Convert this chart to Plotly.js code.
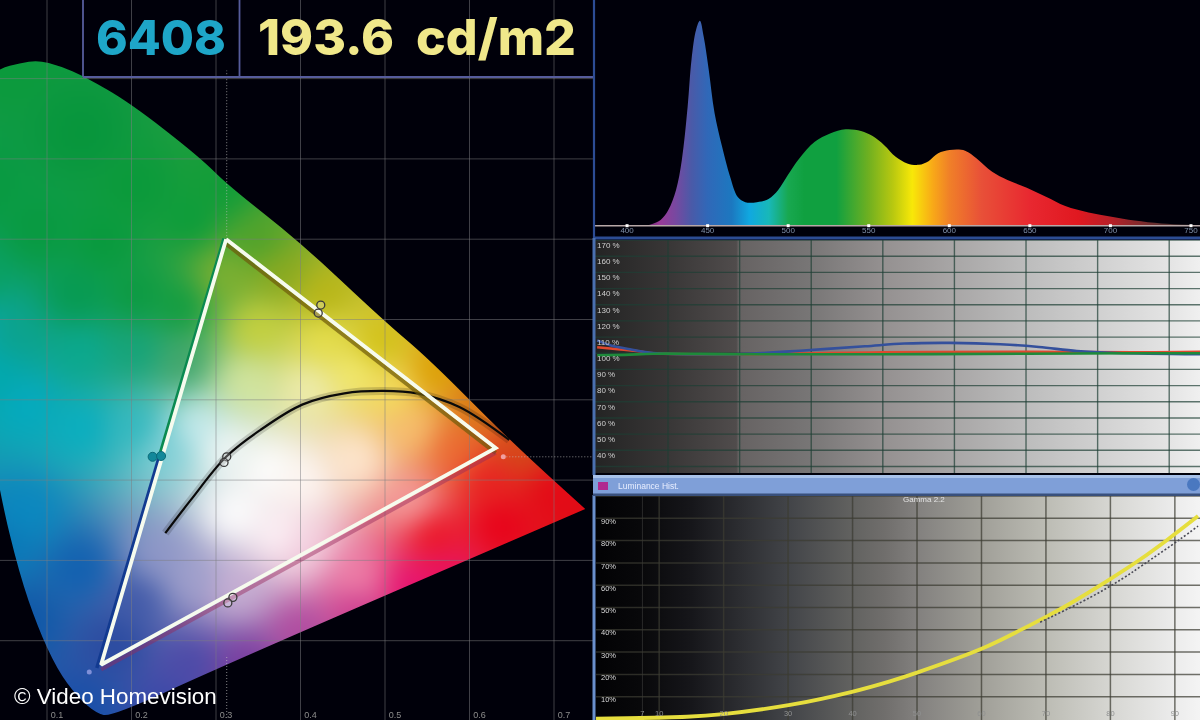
<!DOCTYPE html>
<html><head><meta charset="utf-8">
<script src="https://cdn.plot.ly/plotly-3.0.1.min.js"></script>
<style>html,body{margin:0;padding:0;background:#00000a;overflow:hidden}#gd{width:1200px;height:720px;filter:blur(0.45px)}</style>
</head><body><div id="gd"></div>
<script>
// ---------- CIE diagram values ----------
const locusX=[.044,.021,.009,.015,.044,.067,.089,.112,.136,.158,.176,.317,.737,.647,.553,.498,.399,.314,.281,.198,.145,.115,.089,.068];
const locusY=[.813,.792,.649,.462,.284,.184,.117,.064,.030,.010,.005,.073,.264,.350,.450,.499,.597,.667,.702,.770,.802,.816,.823,.819];
const cieTicksX=[.1,.2,.3,.4,.5,.6,.7];
const cieTickText=['0.1','0.2','0.3','0.4','0.5','0.6','0.7'];
const cieGridY=[.1,.2,.3,.4,.5,.6,.7,.8];
const whiteX=.3127, whiteY=.329;
const triX=[.312,.631,.164,.312];
const triY=[.600,.340,.070,.600];
const targetLeftX=[.3095,.234,.159];
const targetLeftY=[.601,.333,.066];
const planckX=[.240,.270,.312,.352,.402,.452,.498,.538,.588,.647];
const planckY=[.234,.275,.329,.362,.394,.408,.411,.408,.391,.350];
const refPtsX=[.640,.150];
const refPtsY=[.329,.061];
const ringX=[.3127,.3095,.424,.421,.320,.314];
const ringY=[.329,.322,.518,.508,.154,.147];
const cyanX=[.225,.235];
const cyanY=[.329,.330];
// ---------- Spectrum ----------
const nm=[413.6,420.8,425.6,430.4,434,437.6,440,442.8,445.2,447.6,450.7,454.3,459,463.9,468.7,473.4,480.6,487.8,493.8,499.8,506.9,516.5,526,535.6,545.2,552.4,559.6,566.7,573.9,581.1,587.1,593.1,600.2,609.8,617,626.6,636.1,648.1,660,672,686.4,700.7,715,731.8,749.7];
const power=[.3,2.8,7.6,17.4,32,58,81,95.5,100,92,76,55,38.5,24,14,11.5,11.5,13,17.4,24.7,32.8,41,45,47,46.2,43.7,39.3,33.6,30.4,29.7,31.5,35.3,36.9,36.6,32.8,26.3,22.3,18.5,14.1,9.6,6.5,4.4,2.5,1.1,.5];
const nmTicks=[400,450,500,550,600,650,700,750];
// ---------- RGB balance ----------
const ireGrid=[10,20,30,40,50,60,70,80];
const pctTicks=[170,160,150,140,130,120,110,100,90,80,70,60,50,40,30];
const pctText=pctTicks.map(v=>v+' %');
const blueX=[.1,1.9,4.7,7.9,14.5,21.4,29.4,37.5,43,49.4,56.4,61.8,67.1,72.6,84.3];
const blueY=[108,105,102.5,100.2,99.4,99.7,101.9,104.3,106,106.4,105.6,103.9,101.4,100.2,99.4];
const greenX=[.1,4,8,20,40,60,75,84.3];
const greenY=[98.8,99,99.7,99.4,99.4,99.7,100,100];
const redX=[.1,3,6,8,20,40,60,75,84.3];
const redY=[103.7,102.5,101.2,100,99.4,100.6,100.9,100.6,100.9];
// ---------- Luminance ----------
const lumGridX=[7.4,10,20,30,40,50,60,70,80,90];
const lumTickText=['7','10','20','30','40','50','60','70','80','90'];
const lumPct=[100,90,80,70,60,50,40,30,20,10];
const lumPctText=lumPct.map(v=>v+'%');
const lumX=[.2,14.3,19.9,30.3,39.9,45.8,50,60.1,66.4,70,73.3,79.9,84.6,88.8,93.6];
const lumY=[.2,1,2.2,6.3,12.2,16.9,20.8,31.6,40.4,45.8,51,62.6,71.5,80.3,91];
const gammaX=[69.1,76.8,81.9,85,90.8,93.6];
const gammaY=[43.4,54.4,63,69,80.6,86.5];

// ---------- styling only ----------
const xr=[37.5/845,630.5/845], yr=[1/803,721/803];
const specScale=[[413,'#6a2a70'],[420,'#9a3a98'],[430,'#7848a0'],[440,'#4a5aa8'],[450,'#3068b8'],[465,'#1c78c0'],[476,'#10a8e0'],[488,'#18b8b8'],[500,'#18a850'],[510,'#10a040'],[530,'#10a040'],[550,'#70b020'],[565,'#b8c810'],[577,'#f8e808'],[590,'#f8a818'],[600,'#f08028'],[620,'#e85038'],[650,'#e82830'],[680,'#e01820'],[700,'#b82028'],[730,'#603030'],[750,'#383030']];
function scale01(list,a,b){return list.map(s=>[(s[0]-a)/(b-a),s[1]]);}
const bg2=[[0,'#242424'],[10,'#383636'],[19.7,'#504c4c'],[20,'#666262'],[30,'#787676'],[40,'#949090'],[50,'#a8a6a6'],[60,'#bcbcbc'],[70,'#d0d0d0'],[80,'#e4e4e4'],[84.4,'#f0f0f0']];
const bg3=[[0,'#020204'],[7,'#08080a'],[15,'#16161a'],[30,'#424448'],[40,'#626260'],[45,'#706e6c'],[50,'#82807e'],[60,'#a09f98'],[70,'#bcbcb4'],[80,'#d6d6d2'],[90,'#ececec'],[94,'#f4f4f4']];
// colour field of the chromaticity diagram [px,py,hex]
const field=[[38,80,'#0b9a3c'],[100,150,'#07963c'],[150,200,'#0a9a3a'],[200,230,'#0a9c3a'],[228,200,'#109c38'],[260,250,'#4fa22a'],[280,280,'#8aa81e'],[320,300,'#b9b514'],[370,345,'#d0c010'],[420,370,'#dca000'],[460,400,'#d97a10'],[500,440,'#d34a18'],
[230,280,'#7fb030'],[260,330,'#c8d23c'],[320,340,'#e8e04a'],[350,370,'#f4ec70'],[250,380,'#d4e6a0'],[306,385,'#f0eeb0'],[383,387,'#f6e060'],[191,360,'#3fa56a'],[150,350,'#13a37a'],[100,350,'#0aa88f'],[20,370,'#00a8b0'],[11,333,'#08a8a8'],[38,333,'#0ca28c'],[96,300,'#069a50'],[150,300,'#0a9a40'],[190,310,'#0e9c3e'],[10,200,'#089a40'],[60,240,'#089a40'],[120,250,'#089a3c'],[5,280,'#08a060'],
[50,400,'#04aac0'],[100,420,'#08aec0'],[150,420,'#30b8c0'],[180,440,'#80d0d8'],[205,420,'#c8ecf0'],[230,440,'#f4f8f8'],[240,500,'#ffffff'],[270,460,'#ffffff'],[280,520,'#fff4f8'],[300,470,'#fff8f4'],[350,450,'#ffe8d0'],[400,420,'#f8c070'],[440,440,'#ec6a30'],[470,470,'#e82020'],[400,490,'#f4a0a0'],[420,520,'#ec1020'],[480,510,'#e80018'],[530,480,'#e40816'],[560,510,'#e00a14'],[400,570,'#e80e70'],[350,560,'#f080a8'],[300,530,'#f4d0e0'],[240,570,'#c8b0d4'],[200,560,'#a0a0cc'],[170,540,'#9098c8'],[150,580,'#4058a8'],[130,620,'#2a4aa0'],[200,640,'#4a4aa8'],[250,640,'#7c3ca0'],[300,610,'#b04aa0'],[350,590,'#cc3c90'],[430,555,'#e81060'],[100,550,'#1060b0'],[50,500,'#0a88c0'],[30,530,'#0a78b8'],[50,600,'#1058a8'],[100,680,'#1a50a8'],[110,710,'#1c50a8'],[180,680,'#3a48a8'],[240,665,'#7040a0']];
function rgb(h){return [1,3,5].map(i=>parseInt(h.substr(i,2),16));}
function paintField(){
  const W=593,H=720,S=3,w=Math.ceil(W/S),h=Math.ceil(H/S);
  const lo=document.createElement('canvas');lo.width=w;lo.height=h;const c=lo.getContext('2d');
  const im=c.createImageData(w,h),cols=field.map(f=>rgb(f[2]));
  for(let j=0;j<h;j++)for(let i=0;i<w;i++){
    let a=0,r=0,g=0,b=0;const px=i*S,py=j*S;
    for(let k=0;k<field.length;k++){const dx=px-field[k][0],dy=py-field[k][1];const d=dx*dx+dy*dy+300;const wt=1/Math.pow(d,1.7);a+=wt;r+=wt*cols[k][0];g+=wt*cols[k][1];b+=wt*cols[k][2];}
    const o=(j*w+i)*4;im.data[o]=r/a;im.data[o+1]=g/a;im.data[o+2]=b/a;im.data[o+3]=255;
  }
  c.putImageData(im,0,0);
  const out=document.createElement('canvas');out.width=W;out.height=H;const o=out.getContext('2d');
  const P=locusX.map((x,i)=>[x*845-37.5,721-locusY[i]*803]);
  const sharp=new Set([12]); // red tip stays pointed
  o.beginPath();
  const n=P.length,mid=(a,b)=>[(a[0]+b[0])/2,(a[1]+b[1])/2];
  let s=mid(P[n-1],P[0]);o.moveTo(s[0],s[1]);
  for(let i=0;i<n;i++){const q=P[i],m=mid(q,P[(i+1)%n]);
    if(sharp.has(i)){o.lineTo(q[0],q[1]);o.lineTo(m[0],m[1]);}
    else o.quadraticCurveTo(q[0],q[1],m[0],m[1]);}
  o.closePath();o.clip();
  o.filter='blur(9px)';o.imageSmoothingEnabled=true;o.drawImage(lo,-30,-30,W+60,H+60);
  return out.toDataURL('image/png');
}
function crossGrid(xs,ys,x0,x1,y0,y1){
  const X=[],Y=[];
  xs.forEach(v=>{X.push(v,v,null);Y.push(y0,y1,null);});
  ys.forEach(v=>{X.push(x0,x1,null);Y.push(v,v,null);});
  return {x:X,y:Y};
}
const L=(x,y,color,width,ax,extra)=>Object.assign({type:'scatter',mode:'lines',x,y,line:{color,width},xaxis:'x'+ax,yaxis:'y'+ax,hoverinfo:'skip',showlegend:false},extra||{});
const M=(x,y,marker,ax)=>({type:'scatter',mode:'markers',x,y,marker,xaxis:'x'+ax,yaxis:'y'+ax,hoverinfo:'skip',showlegend:false});
const g1=crossGrid(cieTicksX,cieGridY,xr[0],xr[1],yr[0],yr[1]);
const g2=crossGrid(ireGrid,pctTicks,-.2,84.4,25.9,170);
const g3=crossGrid(lumGridX.slice(1),lumPct,0,94,-.5,100.5);
const g3b=crossGrid([lumGridX[0]],[],0,94,-.5,100.5);
const dots={color:'rgba(190,190,190,0.7)',width:1,dash:'1px,2px'};
const traces=[
 // CIE
 L(g1.x,g1.y,'rgba(125,125,130,0.5)',1,''),
 L([whiteX,whiteX,null,whiteX,whiteX],[.6,.81,null,0,.08],'',1,'',{line:dots}),
 L([.64,.75],[whiteY,whiteY],'',1,'',{line:dots}),
 L(planckX,planckY,'',8,'',{line:{color:'rgba(0,0,0,0.16)',width:8,shape:'spline'}}),
 L(planckX,planckY,'',2.2,'',{line:{color:'#0a0a0a',width:2.2,shape:'spline'}}),
 L(targetLeftX.slice(0,2),targetLeftY.slice(0,2),'#0a8a50',3.5,''),
 L(targetLeftX.slice(1),targetLeftY.slice(1),'#123a90',3.5,''),
 L([triX[0],triX[1]],[triY[0]-.006,triY[1]-.006],'rgba(110,90,10,0.7)',4,''),
 L([triX[1],triX[2]],[triY[1]-.006,triY[2]-.006],'rgba(150,40,90,0.45)',4,''),
 L(triX,triY,'#f6fbee',3.8,''),
 M(refPtsX,refPtsY,{size:5,color:['#f0a0a0','#8090d8'],line:{width:0}},''),
 M(ringX,ringY,{size:8,color:'rgba(255,255,255,0.25)',line:{color:'#3a3a3a',width:1.3}},''),
 M(cyanX,cyanY,{size:9,color:'#12889a',line:{color:'#0a6a78',width:1}},''),
 // Spectrum
 {type:'scatter',mode:'lines',x:nm,y:power,fill:'tozeroy',line:{color:'rgba(0,0,0,0)',width:0,shape:'spline'},fillgradient:{type:'horizontal',start:413,stop:750,colorscale:scale01(specScale,413,750)},xaxis:'x2',yaxis:'y2',hoverinfo:'skip',showlegend:false},
 L([380,756],[0,0],'#b8a8a8',1.5,'2'),
 M(nmTicks,nmTicks.map(()=>0),{symbol:'square',size:3,color:'#ffffff'},'2'),
 // RGB balance
 {type:'scatter',mode:'lines',x:[-.2,84.4,84.4,-.2,-.2],y:[25.9,25.9,170,170,25.9],fill:'toself',line:{width:0},fillgradient:{type:'horizontal',start:-.2,stop:84.4,colorscale:bg2.map(s=>[(s[0])/84.4,s[1]])},xaxis:'x3',yaxis:'y3',hoverinfo:'skip',showlegend:false},
 L(g2.x,g2.y,'rgba(30,62,52,0.7)',1.4,'3'),
 L(redX,redY,'',2.4,'3',{line:{color:'#e0482e',width:2.4,shape:'spline'}}),
 L(blueX,blueY,'',2.6,'3',{line:{color:'#34509c',width:2.6,shape:'spline'}}),
 L(greenX,greenY,'',2.6,'3',{line:{color:'#1e8a3a',width:2.6,shape:'spline'}}),
 // Luminance
 {type:'scatter',mode:'lines',x:[0,94,94,0,0],y:[-.5,-.5,100.5,100.5,-.5],fill:'toself',line:{width:0},fillgradient:{type:'horizontal',start:0,stop:94,colorscale:bg3.map(s=>[s[0]/94,s[1]])},xaxis:'x4',yaxis:'y4',hoverinfo:'skip',showlegend:false},
 L(g3b.x,g3b.y,'rgba(120,120,115,0.3)',1,'4'),
 L(g3.x,g3.y,'rgba(60,60,50,0.72)',1.5,'4'),
 L(lumX,lumY,'',3.8,'4',{line:{color:'#e6de3e',width:3.8,shape:'spline'}}),
 L(gammaX,gammaY,'',1.6,'4',{line:{color:'#4a4a55',width:1.6,dash:'2px,2px',shape:'spline'}})
];
const fy=p=>1-p/720, fx=p=>p/1200;
const rectP=(x0,y0,x1,y1,fill,extra)=>Object.assign({type:'rect',xref:'paper',yref:'paper',x0:fx(x0),x1:fx(x1),y0:fy(y0),y1:fy(y1),fillcolor:fill,line:{width:0},layer:'above'},extra||{});
const lineP=(x0,y0,x1,y1,color,width)=>({type:'line',xref:'paper',yref:'paper',x0:fx(x0),x1:fx(x1),y0:fy(y0),y1:fy(y1),line:{color,width},layer:'above'});
const tf=(size,color)=>({family:'"Liberation Sans",Arial,sans-serif',size,color});
const note=(text,x,y,font,anchor)=>({text,xref:'paper',yref:'paper',x:fx(x),y:fy(y),xanchor:anchor||'left',yanchor:'middle',showarrow:false,font,borderpad:0});
const layout={
 width:1200,height:720,margin:{l:0,r:0,t:0,b:0},paper_bgcolor:'#00000a',plot_bgcolor:'rgba(0,0,0,0)',showlegend:false,
 xaxis:{domain:[0,593/1200],range:xr,anchor:'y',showgrid:false,zeroline:false,showline:false,ticks:'',tickmode:'array',tickvals:cieTicksX,ticktext:cieTickText,ticklabelposition:'inside',ticklabelshift:10,ticklabelstandoff:-3,tickfont:tf(9,'#8c8c8c')},
 yaxis:{domain:[0,1],range:yr,anchor:'x',visible:false},
 xaxis2:{domain:[595/1200,1],range:[380.1,755.6],anchor:'y2',showgrid:false,zeroline:false,showline:false,ticks:'',tickmode:'array',tickvals:nmTicks,ticklabelposition:'inside',tickfont:tf(8,'#7f8fa8')},
 yaxis2:{domain:[fy(238),1],range:[-6,110.1],anchor:'x2',visible:false},
 xaxis3:{domain:[595/1200,1],range:[-.2,84.3],anchor:'y3',visible:false},
 yaxis3:{domain:[fy(475),fy(240)],range:[24.7,170.05],anchor:'x3',showgrid:false,zeroline:false,showline:false,ticks:'',tickmode:'array',tickvals:pctTicks,ticktext:pctText,ticklabelposition:'inside',ticklabelshift:5,ticklabelstandoff:-1,tickfont:tf(8,'#cfcfcf')},
 xaxis4:{domain:[596/1200,1],range:[.2,93.9],anchor:'y4',showgrid:false,zeroline:false,showline:false,ticks:'',tickmode:'array',tickvals:lumGridX,ticktext:lumTickText,ticklabelposition:'inside',tickfont:tf(7.5,'#8f9090')},
 yaxis4:{domain:[0,fy(495)],range:[-.45,100.45],anchor:'x4',showgrid:false,zeroline:false,showline:false,ticks:'',tickmode:'array',tickvals:lumPct,ticktext:lumPctText,ticklabelposition:'inside',ticklabelshift:3,ticklabelstandoff:2,tickfont:tf(7.5,'#d8d8d8')},
 images:[{source:paintField(),xref:'x',yref:'y',x:xr[0],y:yr[1],sizex:xr[1]-xr[0],sizey:yr[1]-yr[0],xanchor:'left',yanchor:'top',sizing:'stretch',layer:'below'}],
 shapes:[
  lineP(83,0,83,77,'#565c9c',1.8),lineP(239.5,0,239.5,77,'#565c9c',1.8),lineP(83,77,593,77,'#565c9c',1.8),
  lineP(594,0,594,238,'#2c4c94',2.2),lineP(594,238,1200,238,'#2c4c94',3.2),lineP(594,238,594,475,'#4a70b0',3),lineP(594,495,594,720,'#6a90cc',3),
  rectP(593,475,1200,496,'#7f9fd8'),
  rectP(593,475,1200,478,'#a8c2ea'),
  rectP(593,493.5,1200,496,'#39507c'),
  rectP(598,482,608,490,'#b02a90'),
  {type:'circle',xref:'paper',yref:'paper',x0:fx(1187),x1:fx(1200),y0:fy(491),y1:fy(478),fillcolor:'#4a78c0',line:{width:0},layer:'above'}
 ],
 annotations:[
  note('6408',161,37,{family:'Inter,"DejaVu Sans",sans-serif',size:48,color:'#1ea6c8',weight:800},'center'),
  note('193.6\u00a0 cd/m2',417,37,{family:'Inter,"DejaVu Sans",sans-serif',size:50,color:'#f0e88a',weight:800},'center'),
  note('© Video Homevision',13,696,tf(22.4,'#ffffff')),
  note('Luminance Hist.',617,486,tf(8.5,'#e8eeff')),
  note('Gamma 2.2',902,499,tf(8,'#e4e4e4'))
 ]
};
Plotly.newPlot('gd',traces,layout,{staticPlot:true,displayModeBar:false});
</script></body></html>
